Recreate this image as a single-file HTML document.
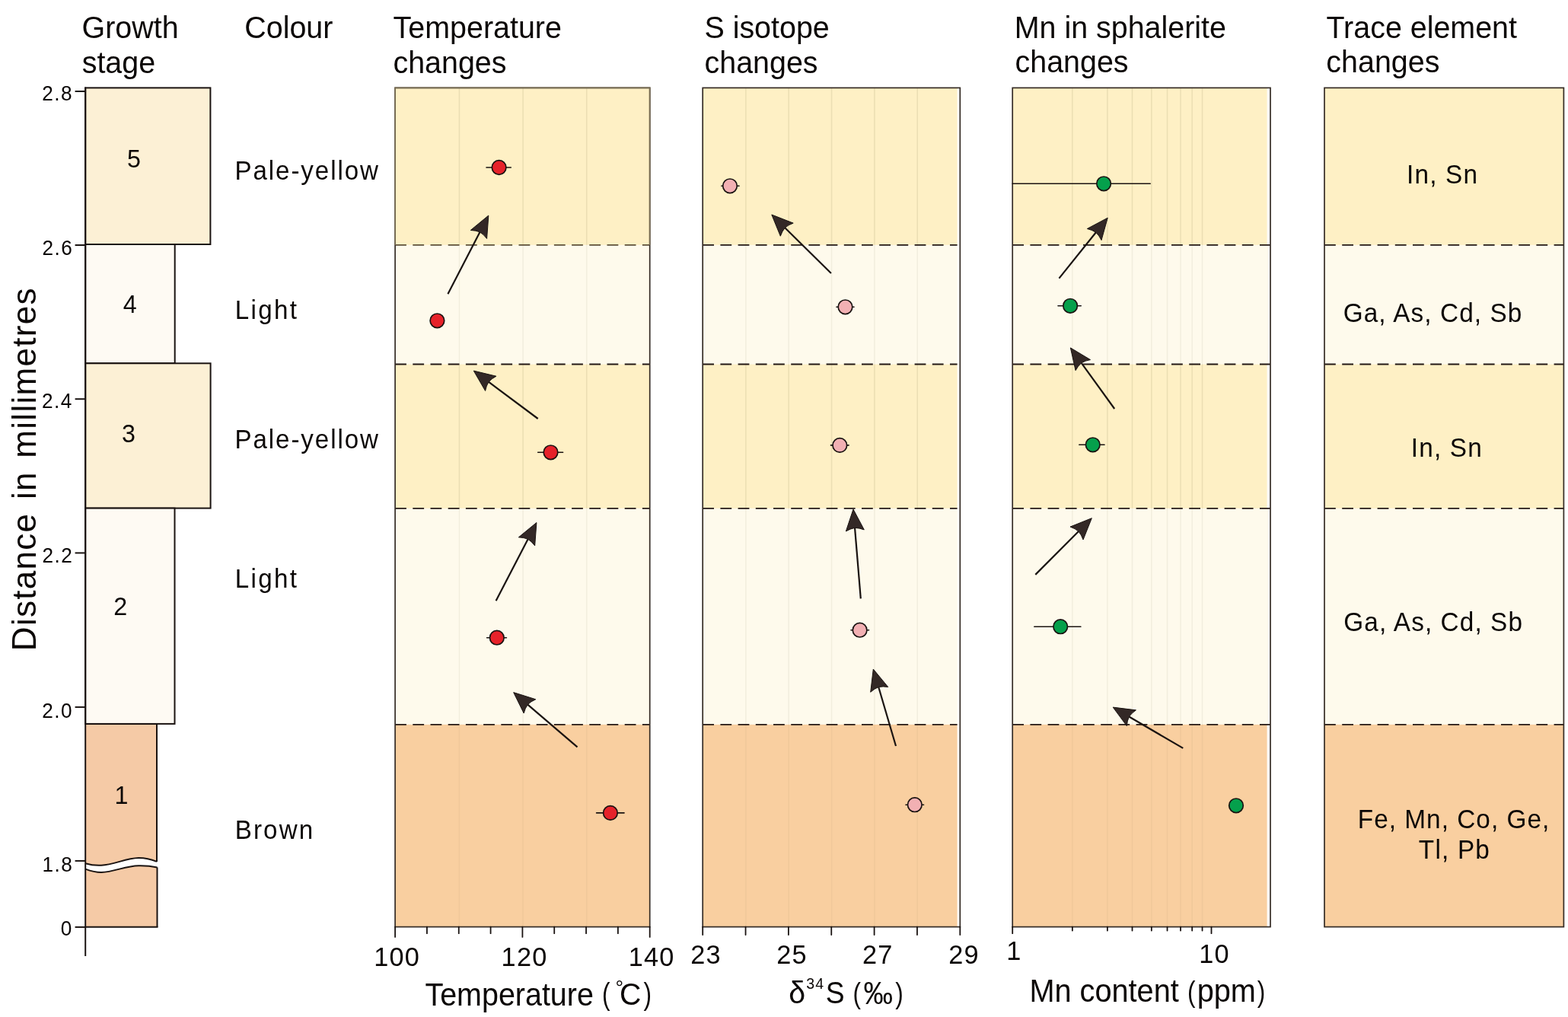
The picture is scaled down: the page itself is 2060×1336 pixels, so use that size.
<!DOCTYPE html>
<html><head><meta charset="utf-8"><title>Sphalerite growth-stage profile</title>
<style>html,body{margin:0;padding:0;background:#fff;width:2060px;height:1336px;overflow:hidden}svg{display:block}</style>
</head><body>
<svg width="2060" height="1336" viewBox="0 0 2060 1336">
<rect width="2060" height="1336" fill="#fff"/>
<g font-family='"Liberation Sans", Arial, Helvetica, sans-serif'>
<text transform="translate(107.52,50.1) scale(0.957,1)" font-size="41.2" fill="#0b0706" >Growth</text>
<text transform="translate(107.7,95.6) scale(0.957,1)" font-size="41.2" fill="#0b0706" >stage</text>
<text transform="translate(321.3,50.1) scale(0.957,1)" font-size="41.2" fill="#0b0706" >Colour</text>
<text transform="translate(516.61,50) scale(0.957,1)" font-size="41.2" fill="#0b0706" >Temperature</text>
<text transform="translate(516.43,95.5) scale(0.957,1)" font-size="41.2" fill="#0b0706" >changes</text>
<text transform="translate(925.41,50) scale(0.957,1)" font-size="41.2" fill="#0b0706" >S isotope</text>
<text transform="translate(925.53,95.5) scale(0.957,1)" font-size="41.2" fill="#0b0706" >changes</text>
<text transform="translate(1332.67,50) scale(0.957,1)" font-size="41.2" fill="#0b0706" >Mn in sphalerite</text>
<text transform="translate(1333.53,95.4) scale(0.957,1)" font-size="41.2" fill="#0b0706" >changes</text>
<text transform="translate(1742.51,50) scale(0.957,1)" font-size="41.2" fill="#0b0706" >Trace element</text>
<text transform="translate(1742.33,95.4) scale(0.957,1)" font-size="41.2" fill="#0b0706" >changes</text>
<text transform="translate(46.8,855.2) rotate(-90)" font-size="44" letter-spacing="1.3" word-spacing="4" fill="#0b0706">Distance in millimetres</text>
<rect x="519.1" y="115.4" width="334.6" height="206.5" fill="#fef0c5"/>
<rect x="519.1" y="321.9" width="334.6" height="156.6" fill="#fefaec"/>
<rect x="519.1" y="478.5" width="334.6" height="189.4" fill="#fef0c5"/>
<rect x="519.1" y="667.9" width="334.6" height="283.9" fill="#fefaec"/>
<rect x="519.1" y="951.8" width="334.6" height="265.8" fill="#f9cfa0"/>
<line x1="603.45" y1="115.4" x2="603.45" y2="321.9" stroke="rgba(100,95,50,0.12)" stroke-width="1.5"/>
<line x1="603.45" y1="321.9" x2="603.45" y2="478.5" stroke="rgba(100,95,50,0.075)" stroke-width="1.5"/>
<line x1="603.45" y1="478.5" x2="603.45" y2="667.9" stroke="rgba(100,95,50,0.12)" stroke-width="1.5"/>
<line x1="603.45" y1="667.9" x2="603.45" y2="951.8" stroke="rgba(100,95,50,0.075)" stroke-width="1.5"/>
<line x1="603.45" y1="951.8" x2="603.45" y2="1217.6" stroke="rgba(100,95,50,0.055)" stroke-width="1.5"/>
<line x1="687.1" y1="115.4" x2="687.1" y2="321.9" stroke="rgba(100,95,50,0.12)" stroke-width="1.5"/>
<line x1="687.1" y1="321.9" x2="687.1" y2="478.5" stroke="rgba(100,95,50,0.075)" stroke-width="1.5"/>
<line x1="687.1" y1="478.5" x2="687.1" y2="667.9" stroke="rgba(100,95,50,0.12)" stroke-width="1.5"/>
<line x1="687.1" y1="667.9" x2="687.1" y2="951.8" stroke="rgba(100,95,50,0.075)" stroke-width="1.5"/>
<line x1="687.1" y1="951.8" x2="687.1" y2="1217.6" stroke="rgba(100,95,50,0.055)" stroke-width="1.5"/>
<line x1="770.75" y1="115.4" x2="770.75" y2="321.9" stroke="rgba(100,95,50,0.12)" stroke-width="1.5"/>
<line x1="770.75" y1="321.9" x2="770.75" y2="478.5" stroke="rgba(100,95,50,0.075)" stroke-width="1.5"/>
<line x1="770.75" y1="478.5" x2="770.75" y2="667.9" stroke="rgba(100,95,50,0.12)" stroke-width="1.5"/>
<line x1="770.75" y1="667.9" x2="770.75" y2="951.8" stroke="rgba(100,95,50,0.075)" stroke-width="1.5"/>
<line x1="770.75" y1="951.8" x2="770.75" y2="1217.6" stroke="rgba(100,95,50,0.055)" stroke-width="1.5"/>
<line x1="519.1" y1="321.9" x2="853.7" y2="321.9" stroke="#5d5038" stroke-width="1.8" stroke-dasharray="14.8 8.4"/>
<line x1="519.1" y1="478.5" x2="853.7" y2="478.5" stroke="#231815" stroke-width="1.8" stroke-dasharray="14.8 8.4"/>
<line x1="519.1" y1="667.9" x2="853.7" y2="667.9" stroke="#231815" stroke-width="1.8" stroke-dasharray="14.8 8.4"/>
<line x1="519.1" y1="951.8" x2="853.7" y2="951.8" stroke="#231815" stroke-width="1.8" stroke-dasharray="14.8 8.4"/>
<rect x="519.1" y="115.4" width="334.6" height="1102.2" fill="none" stroke="#352c25" stroke-width="1.7"/>
<path d="M519.1,321.9 L519.1,115.4 L853.7,115.4 L853.7,321.9" fill="none" stroke="#7a6f55" stroke-width="1.7"/>
<rect x="923.2" y="115.4" width="334.4" height="206.5" fill="#fef0c5"/>
<rect x="923.2" y="321.9" width="334.4" height="156.6" fill="#fefaec"/>
<rect x="923.2" y="478.5" width="334.4" height="189.4" fill="#fef0c5"/>
<rect x="923.2" y="667.9" width="334.4" height="283.9" fill="#fefaec"/>
<rect x="923.2" y="951.8" width="334.4" height="265.8" fill="#f9cfa0"/>
<line x1="979.85" y1="115.4" x2="979.85" y2="321.9" stroke="rgba(100,95,50,0.12)" stroke-width="1.5"/>
<line x1="979.85" y1="321.9" x2="979.85" y2="478.5" stroke="rgba(100,95,50,0.075)" stroke-width="1.5"/>
<line x1="979.85" y1="478.5" x2="979.85" y2="667.9" stroke="rgba(100,95,50,0.12)" stroke-width="1.5"/>
<line x1="979.85" y1="667.9" x2="979.85" y2="951.8" stroke="rgba(100,95,50,0.075)" stroke-width="1.5"/>
<line x1="979.85" y1="951.8" x2="979.85" y2="1217.6" stroke="rgba(100,95,50,0.055)" stroke-width="1.5"/>
<line x1="1036.2" y1="115.4" x2="1036.2" y2="321.9" stroke="rgba(100,95,50,0.12)" stroke-width="1.5"/>
<line x1="1036.2" y1="321.9" x2="1036.2" y2="478.5" stroke="rgba(100,95,50,0.075)" stroke-width="1.5"/>
<line x1="1036.2" y1="478.5" x2="1036.2" y2="667.9" stroke="rgba(100,95,50,0.12)" stroke-width="1.5"/>
<line x1="1036.2" y1="667.9" x2="1036.2" y2="951.8" stroke="rgba(100,95,50,0.075)" stroke-width="1.5"/>
<line x1="1036.2" y1="951.8" x2="1036.2" y2="1217.6" stroke="rgba(100,95,50,0.055)" stroke-width="1.5"/>
<line x1="1092.55" y1="115.4" x2="1092.55" y2="321.9" stroke="rgba(100,95,50,0.12)" stroke-width="1.5"/>
<line x1="1092.55" y1="321.9" x2="1092.55" y2="478.5" stroke="rgba(100,95,50,0.075)" stroke-width="1.5"/>
<line x1="1092.55" y1="478.5" x2="1092.55" y2="667.9" stroke="rgba(100,95,50,0.12)" stroke-width="1.5"/>
<line x1="1092.55" y1="667.9" x2="1092.55" y2="951.8" stroke="rgba(100,95,50,0.075)" stroke-width="1.5"/>
<line x1="1092.55" y1="951.8" x2="1092.55" y2="1217.6" stroke="rgba(100,95,50,0.055)" stroke-width="1.5"/>
<line x1="1148.9" y1="115.4" x2="1148.9" y2="321.9" stroke="rgba(100,95,50,0.12)" stroke-width="1.5"/>
<line x1="1148.9" y1="321.9" x2="1148.9" y2="478.5" stroke="rgba(100,95,50,0.075)" stroke-width="1.5"/>
<line x1="1148.9" y1="478.5" x2="1148.9" y2="667.9" stroke="rgba(100,95,50,0.12)" stroke-width="1.5"/>
<line x1="1148.9" y1="667.9" x2="1148.9" y2="951.8" stroke="rgba(100,95,50,0.075)" stroke-width="1.5"/>
<line x1="1148.9" y1="951.8" x2="1148.9" y2="1217.6" stroke="rgba(100,95,50,0.055)" stroke-width="1.5"/>
<line x1="1205.25" y1="115.4" x2="1205.25" y2="321.9" stroke="rgba(100,95,50,0.12)" stroke-width="1.5"/>
<line x1="1205.25" y1="321.9" x2="1205.25" y2="478.5" stroke="rgba(100,95,50,0.075)" stroke-width="1.5"/>
<line x1="1205.25" y1="478.5" x2="1205.25" y2="667.9" stroke="rgba(100,95,50,0.12)" stroke-width="1.5"/>
<line x1="1205.25" y1="667.9" x2="1205.25" y2="951.8" stroke="rgba(100,95,50,0.075)" stroke-width="1.5"/>
<line x1="1205.25" y1="951.8" x2="1205.25" y2="1217.6" stroke="rgba(100,95,50,0.055)" stroke-width="1.5"/>
<line x1="923.2" y1="321.9" x2="1257.6" y2="321.9" stroke="#231815" stroke-width="1.8" stroke-dasharray="14.8 8.4"/>
<line x1="923.2" y1="478.5" x2="1257.6" y2="478.5" stroke="#231815" stroke-width="1.8" stroke-dasharray="14.8 8.4"/>
<line x1="923.2" y1="667.9" x2="1257.6" y2="667.9" stroke="#231815" stroke-width="1.8" stroke-dasharray="14.8 8.4"/>
<line x1="923.2" y1="951.8" x2="1257.6" y2="951.8" stroke="#231815" stroke-width="1.8" stroke-dasharray="14.8 8.4"/>
<rect x="923.2" y="115.4" width="338.1" height="1102.2" fill="none" stroke="#352c25" stroke-width="1.7"/>
<rect x="1330.2" y="115.4" width="334.4" height="206.5" fill="#fef0c5"/>
<rect x="1330.2" y="321.9" width="335.6" height="156.6" fill="#fefaec"/>
<rect x="1330.2" y="478.5" width="334.4" height="189.4" fill="#fef0c5"/>
<rect x="1330.2" y="667.9" width="335.6" height="283.9" fill="#fefaec"/>
<rect x="1330.2" y="951.8" width="334.4" height="265.8" fill="#f9cfa0"/>
<line x1="1408.86" y1="115.4" x2="1408.86" y2="321.9" stroke="rgba(100,95,50,0.12)" stroke-width="1.5"/>
<line x1="1408.86" y1="321.9" x2="1408.86" y2="478.5" stroke="rgba(100,95,50,0.075)" stroke-width="1.5"/>
<line x1="1408.86" y1="478.5" x2="1408.86" y2="667.9" stroke="rgba(100,95,50,0.12)" stroke-width="1.5"/>
<line x1="1408.86" y1="667.9" x2="1408.86" y2="951.8" stroke="rgba(100,95,50,0.075)" stroke-width="1.5"/>
<line x1="1408.86" y1="951.8" x2="1408.86" y2="1217.6" stroke="rgba(100,95,50,0.055)" stroke-width="1.5"/>
<line x1="1454.87" y1="115.4" x2="1454.87" y2="321.9" stroke="rgba(100,95,50,0.12)" stroke-width="1.5"/>
<line x1="1454.87" y1="321.9" x2="1454.87" y2="478.5" stroke="rgba(100,95,50,0.075)" stroke-width="1.5"/>
<line x1="1454.87" y1="478.5" x2="1454.87" y2="667.9" stroke="rgba(100,95,50,0.12)" stroke-width="1.5"/>
<line x1="1454.87" y1="667.9" x2="1454.87" y2="951.8" stroke="rgba(100,95,50,0.075)" stroke-width="1.5"/>
<line x1="1454.87" y1="951.8" x2="1454.87" y2="1217.6" stroke="rgba(100,95,50,0.055)" stroke-width="1.5"/>
<line x1="1487.52" y1="115.4" x2="1487.52" y2="321.9" stroke="rgba(100,95,50,0.12)" stroke-width="1.5"/>
<line x1="1487.52" y1="321.9" x2="1487.52" y2="478.5" stroke="rgba(100,95,50,0.075)" stroke-width="1.5"/>
<line x1="1487.52" y1="478.5" x2="1487.52" y2="667.9" stroke="rgba(100,95,50,0.12)" stroke-width="1.5"/>
<line x1="1487.52" y1="667.9" x2="1487.52" y2="951.8" stroke="rgba(100,95,50,0.075)" stroke-width="1.5"/>
<line x1="1487.52" y1="951.8" x2="1487.52" y2="1217.6" stroke="rgba(100,95,50,0.055)" stroke-width="1.5"/>
<line x1="1512.84" y1="115.4" x2="1512.84" y2="321.9" stroke="rgba(100,95,50,0.12)" stroke-width="1.5"/>
<line x1="1512.84" y1="321.9" x2="1512.84" y2="478.5" stroke="rgba(100,95,50,0.075)" stroke-width="1.5"/>
<line x1="1512.84" y1="478.5" x2="1512.84" y2="667.9" stroke="rgba(100,95,50,0.12)" stroke-width="1.5"/>
<line x1="1512.84" y1="667.9" x2="1512.84" y2="951.8" stroke="rgba(100,95,50,0.075)" stroke-width="1.5"/>
<line x1="1512.84" y1="951.8" x2="1512.84" y2="1217.6" stroke="rgba(100,95,50,0.055)" stroke-width="1.5"/>
<line x1="1533.53" y1="115.4" x2="1533.53" y2="321.9" stroke="rgba(100,95,50,0.12)" stroke-width="1.5"/>
<line x1="1533.53" y1="321.9" x2="1533.53" y2="478.5" stroke="rgba(100,95,50,0.075)" stroke-width="1.5"/>
<line x1="1533.53" y1="478.5" x2="1533.53" y2="667.9" stroke="rgba(100,95,50,0.12)" stroke-width="1.5"/>
<line x1="1533.53" y1="667.9" x2="1533.53" y2="951.8" stroke="rgba(100,95,50,0.075)" stroke-width="1.5"/>
<line x1="1533.53" y1="951.8" x2="1533.53" y2="1217.6" stroke="rgba(100,95,50,0.055)" stroke-width="1.5"/>
<line x1="1551.02" y1="115.4" x2="1551.02" y2="321.9" stroke="rgba(100,95,50,0.12)" stroke-width="1.5"/>
<line x1="1551.02" y1="321.9" x2="1551.02" y2="478.5" stroke="rgba(100,95,50,0.075)" stroke-width="1.5"/>
<line x1="1551.02" y1="478.5" x2="1551.02" y2="667.9" stroke="rgba(100,95,50,0.12)" stroke-width="1.5"/>
<line x1="1551.02" y1="667.9" x2="1551.02" y2="951.8" stroke="rgba(100,95,50,0.075)" stroke-width="1.5"/>
<line x1="1551.02" y1="951.8" x2="1551.02" y2="1217.6" stroke="rgba(100,95,50,0.055)" stroke-width="1.5"/>
<line x1="1566.18" y1="115.4" x2="1566.18" y2="321.9" stroke="rgba(100,95,50,0.12)" stroke-width="1.5"/>
<line x1="1566.18" y1="321.9" x2="1566.18" y2="478.5" stroke="rgba(100,95,50,0.075)" stroke-width="1.5"/>
<line x1="1566.18" y1="478.5" x2="1566.18" y2="667.9" stroke="rgba(100,95,50,0.12)" stroke-width="1.5"/>
<line x1="1566.18" y1="667.9" x2="1566.18" y2="951.8" stroke="rgba(100,95,50,0.075)" stroke-width="1.5"/>
<line x1="1566.18" y1="951.8" x2="1566.18" y2="1217.6" stroke="rgba(100,95,50,0.055)" stroke-width="1.5"/>
<line x1="1579.54" y1="115.4" x2="1579.54" y2="321.9" stroke="rgba(100,95,50,0.12)" stroke-width="1.5"/>
<line x1="1579.54" y1="321.9" x2="1579.54" y2="478.5" stroke="rgba(100,95,50,0.075)" stroke-width="1.5"/>
<line x1="1579.54" y1="478.5" x2="1579.54" y2="667.9" stroke="rgba(100,95,50,0.12)" stroke-width="1.5"/>
<line x1="1579.54" y1="667.9" x2="1579.54" y2="951.8" stroke="rgba(100,95,50,0.075)" stroke-width="1.5"/>
<line x1="1579.54" y1="951.8" x2="1579.54" y2="1217.6" stroke="rgba(100,95,50,0.055)" stroke-width="1.5"/>
<line x1="1330.2" y1="321.9" x2="1669" y2="321.9" stroke="#231815" stroke-width="1.8" stroke-dasharray="14.8 8.4"/>
<line x1="1330.2" y1="478.5" x2="1669" y2="478.5" stroke="#231815" stroke-width="1.8" stroke-dasharray="14.8 8.4"/>
<line x1="1330.2" y1="667.9" x2="1669" y2="667.9" stroke="#231815" stroke-width="1.8" stroke-dasharray="14.8 8.4"/>
<line x1="1330.2" y1="951.8" x2="1669" y2="951.8" stroke="#231815" stroke-width="1.8" stroke-dasharray="14.8 8.4"/>
<rect x="1330.2" y="115.4" width="338.8" height="1102.2" fill="none" stroke="#352c25" stroke-width="1.7"/>
<rect x="1740" y="115.4" width="314.4" height="206.5" fill="#fef0c5"/>
<rect x="1740" y="321.9" width="314.4" height="156.6" fill="#fefaec"/>
<rect x="1740" y="478.5" width="314.4" height="189.4" fill="#fef0c5"/>
<rect x="1740" y="667.9" width="314.4" height="283.9" fill="#fefaec"/>
<rect x="1740" y="951.8" width="314.4" height="265.8" fill="#f9cfa0"/>
<line x1="1740" y1="321.9" x2="2054.4" y2="321.9" stroke="#231815" stroke-width="1.8" stroke-dasharray="14.8 8.4"/>
<line x1="1740" y1="478.5" x2="2054.4" y2="478.5" stroke="#231815" stroke-width="1.8" stroke-dasharray="14.8 8.4"/>
<line x1="1740" y1="667.9" x2="2054.4" y2="667.9" stroke="#231815" stroke-width="1.8" stroke-dasharray="14.8 8.4"/>
<line x1="1740" y1="951.8" x2="2054.4" y2="951.8" stroke="#231815" stroke-width="1.8" stroke-dasharray="14.8 8.4"/>
<rect x="1740" y="115.4" width="314.4" height="1102.2" fill="none" stroke="#352c25" stroke-width="1.7"/>
<rect x="112.2" y="115.4" width="164.2" height="205.6" fill="#fcf0d5" stroke="#1a1311" stroke-width="2"/>
<rect x="112.2" y="321" width="117.5" height="156.3" fill="#fefaf3" stroke="#1a1311" stroke-width="2"/>
<rect x="112.2" y="477.3" width="164.4" height="190.3" fill="#fcf0d5" stroke="#1a1311" stroke-width="2"/>
<rect x="112.2" y="667.6" width="117.3" height="283.3" fill="#fefaf3" stroke="#1a1311" stroke-width="2"/>
<path d="M112.2,950.9 L206,950.9 L206,1131.9 C200,1129.5 192,1127 182,1127.1 C165,1127.5 150,1136 133,1136.7 C127,1137 120,1136.5 112.2,1134.2 Z" fill="#f5caa6"/>
<path d="M112.2,1141.6 C120,1144.5 127,1146 133,1146.1 C150,1145.5 165,1137.4 182,1137.2 C192,1137 200,1138 206.5,1139.4 L206.5,1217.7 L112.2,1217.7 Z" fill="#f5caa6"/>
<path d="M112.2,950.9 L206,950.9 L206,1131.9" fill="none" stroke="#1a1311" stroke-width="2"/>
<path d="M206.5,1139.4 L206.5,1217.7" fill="none" stroke="#1a1311" stroke-width="2"/>
<path d="M112.2,1134.2 C120,1136.5 127,1137 133,1136.7 C150,1136 165,1127.5 182,1127.1 C192,1127 200,1129.5 206,1131.9" fill="none" stroke="#1a1311" stroke-width="2"/>
<path d="M112.2,1141.6 C120,1144.5 127,1146 133,1146.1 C150,1145.5 165,1137.4 182,1137.2 C192,1137 200,1138 206.5,1139.4" fill="none" stroke="#1a1311" stroke-width="2"/>
<line x1="112.2" y1="1217.7" x2="207.5" y2="1217.7" stroke="#1a1311" stroke-width="2"/>
<text transform="translate(167.06,220) scale(0.96,1)" font-size="33.6" fill="#0b0706" >5</text>
<text transform="translate(161.83,411.4) scale(0.96,1)" font-size="33.6" fill="#0b0706" >4</text>
<text transform="translate(160.02,581.4) scale(0.96,1)" font-size="33.6" fill="#0b0706" >3</text>
<text transform="translate(149.23,807.6) scale(0.96,1)" font-size="33.6" fill="#0b0706" >2</text>
<text transform="translate(150.39,1056.4) scale(0.96,1)" font-size="33.6" fill="#0b0706" >1</text>
<line x1="112.2" y1="114.5" x2="112.2" y2="1256" stroke="#1a1311" stroke-width="2"/>
<line x1="98.6" y1="120" x2="112.2" y2="120" stroke="#1a1311" stroke-width="2"/>
<text transform="translate(55.31,131.9) scale(0.96,1)" font-size="27.3" letter-spacing="1.51" fill="#0b0706" >2.8</text>
<line x1="98.6" y1="322" x2="112.2" y2="322" stroke="#1a1311" stroke-width="2"/>
<text transform="translate(55.52,334.9) scale(0.96,1)" font-size="27.3" letter-spacing="1.51" fill="#0b0706" >2.6</text>
<line x1="98.6" y1="524.2" x2="112.2" y2="524.2" stroke="#1a1311" stroke-width="2"/>
<text transform="translate(54.94,535.8) scale(0.96,1)" font-size="27.3" letter-spacing="1.51" fill="#0b0706" >2.4</text>
<line x1="98.6" y1="726.4" x2="112.2" y2="726.4" stroke="#1a1311" stroke-width="2"/>
<text transform="translate(55.49,738.9) scale(0.96,1)" font-size="27.3" letter-spacing="1.51" fill="#0b0706" >2.2</text>
<line x1="98.6" y1="928.9" x2="112.2" y2="928.9" stroke="#1a1311" stroke-width="2"/>
<text transform="translate(55.19,942.8) scale(0.96,1)" font-size="27.3" letter-spacing="1.51" fill="#0b0706" >2.0</text>
<line x1="98.6" y1="1130.9" x2="112.2" y2="1130.9" stroke="#1a1311" stroke-width="2"/>
<text transform="translate(55.51,1144.8) scale(0.96,1)" font-size="27.3" letter-spacing="1.51" fill="#0b0706" >1.8</text>
<line x1="98.6" y1="1217.9" x2="112.2" y2="1217.9" stroke="#1a1311" stroke-width="2"/>
<text transform="translate(79.65,1228.6) scale(0.96,1)" font-size="27.3" letter-spacing="1.51" fill="#0b0706" >0</text>
<text transform="translate(308.48,235.9) scale(0.96,1)" font-size="34.5" letter-spacing="2" fill="#0b0706" >Pale-yellow</text>
<text transform="translate(308.68,418.5) scale(0.96,1)" font-size="34.5" letter-spacing="2.45" fill="#0b0706" >Light</text>
<text transform="translate(308.48,588.7) scale(0.96,1)" font-size="34.5" letter-spacing="2" fill="#0b0706" >Pale-yellow</text>
<text transform="translate(308.68,772) scale(0.96,1)" font-size="34.5" letter-spacing="2.45" fill="#0b0706" >Light</text>
<text transform="translate(308.68,1101.9) scale(0.96,1)" font-size="34.5" letter-spacing="2.24" fill="#0b0706" >Brown</text>
<line x1="519.1" y1="1217.6" x2="519.1" y2="1230.9" stroke="#1a1311" stroke-width="1.8" stroke-linecap="round"/>
<line x1="560.93" y1="1217.6" x2="560.93" y2="1226.2" stroke="#1a1311" stroke-width="1.8" stroke-linecap="round"/>
<line x1="602.75" y1="1217.6" x2="602.75" y2="1226.2" stroke="#1a1311" stroke-width="1.8" stroke-linecap="round"/>
<line x1="644.58" y1="1217.6" x2="644.58" y2="1226.2" stroke="#1a1311" stroke-width="1.8" stroke-linecap="round"/>
<line x1="686.4" y1="1217.6" x2="686.4" y2="1230.9" stroke="#1a1311" stroke-width="1.8" stroke-linecap="round"/>
<line x1="728.23" y1="1217.6" x2="728.23" y2="1226.2" stroke="#1a1311" stroke-width="1.8" stroke-linecap="round"/>
<line x1="770.05" y1="1217.6" x2="770.05" y2="1226.2" stroke="#1a1311" stroke-width="1.8" stroke-linecap="round"/>
<line x1="811.88" y1="1217.6" x2="811.88" y2="1226.2" stroke="#1a1311" stroke-width="1.8" stroke-linecap="round"/>
<line x1="853.7" y1="1217.6" x2="853.7" y2="1230.9" stroke="#1a1311" stroke-width="1.8" stroke-linecap="round"/>
<text transform="translate(491.32,1269) scale(0.96,1)" font-size="35.7" letter-spacing="1.25" fill="#0b0706" >100</text>
<text transform="translate(658.62,1268.7) scale(0.96,1)" font-size="35.7" letter-spacing="1.25" fill="#0b0706" >120</text>
<text transform="translate(825.82,1268.8) scale(0.96,1)" font-size="35.7" letter-spacing="1.25" fill="#0b0706" >140</text>
<line x1="923.2" y1="1217.6" x2="923.2" y2="1228.1" stroke="#1a1311" stroke-width="1.8" stroke-linecap="round"/>
<line x1="979.55" y1="1217.6" x2="979.55" y2="1228.1" stroke="#1a1311" stroke-width="1.8" stroke-linecap="round"/>
<line x1="1035.9" y1="1217.6" x2="1035.9" y2="1228.1" stroke="#1a1311" stroke-width="1.8" stroke-linecap="round"/>
<line x1="1092.25" y1="1217.6" x2="1092.25" y2="1228.1" stroke="#1a1311" stroke-width="1.8" stroke-linecap="round"/>
<line x1="1148.6" y1="1217.6" x2="1148.6" y2="1228.1" stroke="#1a1311" stroke-width="1.8" stroke-linecap="round"/>
<line x1="1204.95" y1="1217.6" x2="1204.95" y2="1228.1" stroke="#1a1311" stroke-width="1.8" stroke-linecap="round"/>
<line x1="1261.3" y1="1217.6" x2="1261.3" y2="1228.1" stroke="#1a1311" stroke-width="1.8" stroke-linecap="round"/>
<text transform="translate(907.13,1265.6) scale(0.96,1)" font-size="35.7" letter-spacing="1.25" fill="#0b0706" >23</text>
<text transform="translate(1020.3,1265.6) scale(0.96,1)" font-size="35.7" letter-spacing="1.25" fill="#0b0706" >25</text>
<text transform="translate(1133.09,1265.6) scale(0.96,1)" font-size="35.7" letter-spacing="1.25" fill="#0b0706" >27</text>
<text transform="translate(1246.29,1265.6) scale(0.96,1)" font-size="35.7" letter-spacing="1.25" fill="#0b0706" >29</text>
<line x1="1330.2" y1="1217.6" x2="1330.2" y2="1226.2" stroke="#1a1311" stroke-width="1.8" stroke-linecap="round"/>
<line x1="1408.86" y1="1217.6" x2="1408.86" y2="1222.6" stroke="#1a1311" stroke-width="1.8" stroke-linecap="round"/>
<line x1="1454.87" y1="1217.6" x2="1454.87" y2="1222.6" stroke="#1a1311" stroke-width="1.8" stroke-linecap="round"/>
<line x1="1487.52" y1="1217.6" x2="1487.52" y2="1222.6" stroke="#1a1311" stroke-width="1.8" stroke-linecap="round"/>
<line x1="1512.84" y1="1217.6" x2="1512.84" y2="1222.6" stroke="#1a1311" stroke-width="1.8" stroke-linecap="round"/>
<line x1="1533.53" y1="1217.6" x2="1533.53" y2="1222.6" stroke="#1a1311" stroke-width="1.8" stroke-linecap="round"/>
<line x1="1551.02" y1="1217.6" x2="1551.02" y2="1222.6" stroke="#1a1311" stroke-width="1.8" stroke-linecap="round"/>
<line x1="1566.18" y1="1217.6" x2="1566.18" y2="1222.6" stroke="#1a1311" stroke-width="1.8" stroke-linecap="round"/>
<line x1="1579.54" y1="1217.6" x2="1579.54" y2="1222.6" stroke="#1a1311" stroke-width="1.8" stroke-linecap="round"/>
<line x1="1591.5" y1="1217.6" x2="1591.5" y2="1226.2" stroke="#1a1311" stroke-width="1.8" stroke-linecap="round"/>
<text transform="translate(1322.2,1260.8) scale(0.96,1)" font-size="35.7" fill="#0b0706" >1</text>
<text transform="translate(1575.3,1264.7) scale(0.96,1)" font-size="35.7" letter-spacing="1.25" fill="#0b0706" >10</text>
<text transform="translate(558.41,1320.7) scale(0.92,1)" font-size="42.9" fill="#0b0706" >Temperature</text>
<text transform="translate(791.04,1320.3) scale(0.79,1)" font-size="40.0" fill="#0b0706" >(</text>
<text transform="translate(808.43,1305.7) scale(1.0,1)" font-size="26.4" fill="#0b0706" >°</text>
<text transform="translate(814.01,1319.8) scale(0.98,1)" font-size="40.0" fill="#0b0706" >C</text>
<text transform="translate(845.41,1320.3) scale(0.79,1)" font-size="40.0" fill="#0b0706" >)</text>
<text transform="translate(1036.15,1318.4) scale(0.98,1)" font-size="40.0" fill="#0b0706" >δ</text>
<text transform="translate(1059.36,1298.5) scale(1.0,1)" font-size="19.5" letter-spacing="1.1" fill="#0b0706" >34</text>
<text transform="translate(1084.81,1318.4) scale(0.92,1)" font-size="40.5" fill="#0b0706" >S</text>
<text transform="translate(1120.45,1318.4) scale(0.8,1)" font-size="39.4" fill="#0b0706" >(</text>
<text transform="translate(1134.56,1318.9) scale(0.92,1)" font-size="41.9" fill="#0b0706" >‰</text>
<text transform="translate(1176.32,1318.4) scale(0.8,1)" font-size="39.4" fill="#0b0706" >)</text>
<text transform="translate(1352.44,1316.3) scale(0.945,1)" font-size="42.0" fill="#0b0706" >Mn content</text>
<text transform="translate(1560.05,1316.3) scale(0.8,1)" font-size="39.4" fill="#0b0706" >(</text>
<text transform="translate(1572.64,1316.3) scale(0.945,1)" font-size="42.0" fill="#0b0706" >ppm</text>
<text transform="translate(1651.72,1316.3) scale(0.8,1)" font-size="39.4" fill="#0b0706" >)</text>
<text transform="translate(1848.03,240.7) scale(0.96,1)" font-size="34.7" letter-spacing="1.25" fill="#0b0706" >In, Sn</text>
<text transform="translate(1764.72,422.8) scale(0.96,1)" font-size="34.7" letter-spacing="1.15" fill="#0b0706" >Ga, As, Cd, Sb</text>
<text transform="translate(1853.73,599.7) scale(0.96,1)" font-size="34.7" letter-spacing="1.25" fill="#0b0706" >In, Sn</text>
<text transform="translate(1765.32,828.7) scale(0.96,1)" font-size="34.7" letter-spacing="1.15" fill="#0b0706" >Ga, As, Cd, Sb</text>
<text transform="translate(1783.77,1088) scale(0.96,1)" font-size="34.7" letter-spacing="1.09" fill="#0b0706" >Fe, Mn, Co, Ge,</text>
<text transform="translate(1863.85,1128.4) scale(0.96,1)" font-size="34.7" letter-spacing="1.25" fill="#0b0706" >Tl, Pb</text>
</g>
<line x1="639" y1="220" x2="671.3" y2="220" stroke="#1a1311" stroke-width="1.6" stroke-linecap="round"/>
<circle cx="655.6" cy="220" r="9.3" fill="#e6222a" stroke="#1a1311" stroke-width="1.7"/>
<circle cx="574.4" cy="421.3" r="9.3" fill="#e6222a" stroke="#1a1311" stroke-width="1.7"/>
<line x1="706.7" y1="594.3" x2="739.6" y2="594.3" stroke="#1a1311" stroke-width="1.6" stroke-linecap="round"/>
<circle cx="723.5" cy="594.3" r="9.3" fill="#e6222a" stroke="#1a1311" stroke-width="1.7"/>
<line x1="639.6" y1="837.7" x2="665.4" y2="837.7" stroke="#1a1311" stroke-width="1.6" stroke-linecap="round"/>
<circle cx="652.8" cy="837.7" r="9.3" fill="#e6222a" stroke="#1a1311" stroke-width="1.7"/>
<line x1="783.6" y1="1067.9" x2="820" y2="1067.9" stroke="#1a1311" stroke-width="1.6" stroke-linecap="round"/>
<circle cx="801.9" cy="1067.9" r="9.3" fill="#e6222a" stroke="#1a1311" stroke-width="1.7"/>
<line x1="947.9" y1="244.3" x2="971" y2="244.3" stroke="#1a1311" stroke-width="1.6" stroke-linecap="round"/>
<circle cx="959" cy="244.3" r="9.3" fill="#f2b0b3" stroke="#1a1311" stroke-width="1.7"/>
<line x1="1099" y1="403.3" x2="1122" y2="403.3" stroke="#1a1311" stroke-width="1.6" stroke-linecap="round"/>
<circle cx="1110.5" cy="403.3" r="9.3" fill="#f2b0b3" stroke="#1a1311" stroke-width="1.7"/>
<line x1="1091.5" y1="584.9" x2="1115" y2="584.9" stroke="#1a1311" stroke-width="1.6" stroke-linecap="round"/>
<circle cx="1103.3" cy="584.9" r="9.3" fill="#f2b0b3" stroke="#1a1311" stroke-width="1.7"/>
<line x1="1118" y1="827.7" x2="1141.5" y2="827.7" stroke="#1a1311" stroke-width="1.6" stroke-linecap="round"/>
<circle cx="1129.6" cy="827.7" r="9.3" fill="#f2b0b3" stroke="#1a1311" stroke-width="1.7"/>
<line x1="1190" y1="1057.2" x2="1213.5" y2="1057.2" stroke="#1a1311" stroke-width="1.6" stroke-linecap="round"/>
<circle cx="1201.8" cy="1057.2" r="9.3" fill="#f2b0b3" stroke="#1a1311" stroke-width="1.7"/>
<line x1="1330.2" y1="241.3" x2="1511.2" y2="241.3" stroke="#1a1311" stroke-width="1.6" stroke-linecap="round"/>
<circle cx="1450.1" cy="241.3" r="9.3" fill="#05a04c" stroke="#1a1311" stroke-width="1.7"/>
<line x1="1390" y1="401.8" x2="1420.2" y2="401.8" stroke="#1a1311" stroke-width="1.6" stroke-linecap="round"/>
<circle cx="1406.1" cy="401.8" r="9.3" fill="#05a04c" stroke="#1a1311" stroke-width="1.7"/>
<line x1="1417.8" y1="584.3" x2="1451" y2="584.3" stroke="#1a1311" stroke-width="1.6" stroke-linecap="round"/>
<circle cx="1435.7" cy="584.3" r="9.3" fill="#05a04c" stroke="#1a1311" stroke-width="1.7"/>
<line x1="1358.8" y1="823.2" x2="1419.9" y2="823.2" stroke="#1a1311" stroke-width="1.6" stroke-linecap="round"/>
<circle cx="1393.2" cy="823.2" r="9.3" fill="#05a04c" stroke="#1a1311" stroke-width="1.7"/>
<circle cx="1624" cy="1058.3" r="9.3" fill="#05a04c" stroke="#1a1311" stroke-width="1.7"/>
<line x1="588.4" y1="386.2" x2="630.53" y2="304.86" stroke="#1a1311" stroke-width="2.2"/>
<path d="M641.8,283.1 L639.58,313.48 Q635.61,308.1 630.53,304.86 Q624.95,302.58 618.27,302.44 Z" fill="#332826" stroke="#1a1311" stroke-width="1"/>
<line x1="706.7" y1="550" x2="641.94" y2="501.74" stroke="#1a1311" stroke-width="2.2"/>
<path d="M622.3,487.1 L651.92,494.21 Q645.97,497.26 641.94,501.74 Q638.8,506.88 637.58,513.45 Z" fill="#332826" stroke="#1a1311" stroke-width="1"/>
<line x1="651.6" y1="789.2" x2="693.61" y2="708.25" stroke="#1a1311" stroke-width="2.2"/>
<path d="M704.9,686.5 L702.65,716.88 Q698.69,711.5 693.61,708.25 Q688.04,705.97 681.35,705.82 Z" fill="#332826" stroke="#1a1311" stroke-width="1"/>
<line x1="758.5" y1="981.4" x2="693.3" y2="925.54" stroke="#1a1311" stroke-width="2.2"/>
<path d="M674.7,909.6 L703.77,918.71 Q697.63,921.34 693.3,925.54 Q689.82,930.45 688.16,936.93 Z" fill="#332826" stroke="#1a1311" stroke-width="1"/>
<line x1="1091.9" y1="359" x2="1031.25" y2="299.2" stroke="#1a1311" stroke-width="2.2"/>
<path d="M1013.8,282 L1042.16,293.11 Q1035.85,295.31 1031.25,299.2 Q1027.43,303.86 1025.31,310.2 Z" fill="#332826" stroke="#1a1311" stroke-width="1"/>
<line x1="1130.8" y1="786.3" x2="1123.04" y2="693.41" stroke="#1a1311" stroke-width="2.2"/>
<path d="M1121,669 L1135.29,695.9 Q1129.06,693.46 1123.04,693.41 Q1117.11,694.46 1111.37,697.9 Z" fill="#332826" stroke="#1a1311" stroke-width="1"/>
<line x1="1177" y1="980" x2="1154.21" y2="902.5" stroke="#1a1311" stroke-width="2.2"/>
<path d="M1147.3,879 L1166.71,902.48 Q1160.12,901.34 1154.21,902.5 Q1148.61,904.73 1143.69,909.25 Z" fill="#332826" stroke="#1a1311" stroke-width="1"/>
<line x1="1391.4" y1="365.6" x2="1439.85" y2="305.3" stroke="#1a1311" stroke-width="2.2"/>
<path d="M1455.2,286.2 L1447.02,315.54 Q1444.19,309.49 1439.85,305.3 Q1434.83,301.97 1428.31,300.51 Z" fill="#332826" stroke="#1a1311" stroke-width="1"/>
<line x1="1464.2" y1="537" x2="1420.74" y2="476.77" stroke="#1a1311" stroke-width="2.2"/>
<path d="M1406.4,456.9 L1432.52,472.58 Q1425.92,473.7 1420.74,476.77 Q1416.19,480.72 1413.05,486.63 Z" fill="#332826" stroke="#1a1311" stroke-width="1"/>
<line x1="1360.3" y1="754.9" x2="1417" y2="698.05" stroke="#1a1311" stroke-width="2.2"/>
<path d="M1434.3,680.7 L1423.02,709 Q1420.86,702.67 1417,698.05 Q1412.36,694.2 1406.03,692.05 Z" fill="#332826" stroke="#1a1311" stroke-width="1"/>
<line x1="1554.3" y1="982.9" x2="1483.36" y2="941.46" stroke="#1a1311" stroke-width="2.2"/>
<path d="M1462.2,929.1 L1492.43,932.86 Q1486.86,936.55 1483.36,941.46 Q1480.8,946.92 1480.32,953.58 Z" fill="#332826" stroke="#1a1311" stroke-width="1"/>
</svg>
</body></html>
